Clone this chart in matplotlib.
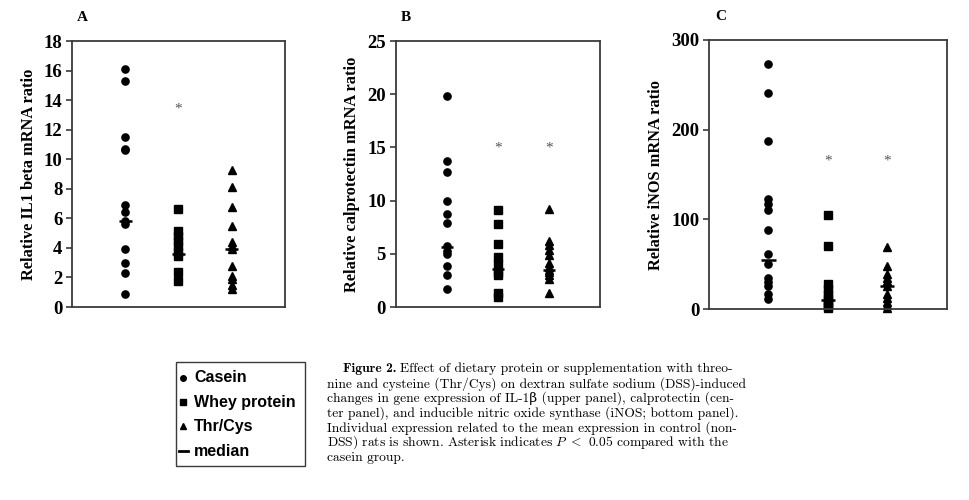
import matplotlib
matplotlib.use("Agg")
import matplotlib.pyplot as plt
from matplotlib.lines import Line2D
from matplotlib.patches import Rectangle

# ---- data ----
groups = ["Casein", "Whey protein", "Thr/Cys"]

il1_casein = [16.1, 15.3, 11.5, 10.7, 10.6, 6.9, 6.4, 5.8, 5.6, 3.9, 3.0, 2.3, 0.9]
il1_whey = [6.65, 5.15, 4.8, 4.45, 4.1, 3.75, 3.45, 2.4, 1.75]
il1_thr = [9.3, 8.1, 6.8, 5.5, 4.4, 4.1, 3.9, 2.8, 2.1, 1.9, 1.5, 1.2]
il1_median = [5.85, 3.6, 3.95]
il1_star = [None, 13.4, None]

cal_casein = [19.8, 13.7, 12.7, 10.0, 8.75, 7.9, 5.7, 5.3, 4.95, 3.85, 3.05, 1.7]
cal_whey = [9.15, 7.8, 5.9, 4.7, 4.0, 3.3, 3.0, 1.3, 0.95]
cal_thr = [9.25, 6.2, 5.8, 5.4, 4.9, 4.1, 3.8, 3.5, 3.3, 3.0, 2.6, 1.35]
cal_median = [5.6, 3.6, 3.45]
cal_star = [None, 14.9, 14.9]

inos_casein = [273, 241, 187, 123, 117, 110, 88, 61, 50, 35, 30, 26, 17, 11]
inos_whey = [105, 70, 28, 22, 17, 12, 9, 6, 3, 1]
inos_thr = [69, 48, 39, 35, 31, 26, 17, 12, 8, 4, 1]
inos_median = [55, 9.5, 26]
inos_star = [None, 165, 165]

SERIF = ["Liberation Serif", "DejaVu Serif"]
DARK = "#3a3a3a"

plt.rcParams["mathtext.fontset"] = "cm"
fig = plt.figure(figsize=(9.7, 5.0), dpi=100)


def panel(rect, letter, series, medians, stars, ymax, ystep, ylabel):
    ax = fig.add_axes(rect)
    markers = ["o", "s", "^"]
    sizes = [5.2, 5.2, 6.2]
    for i, vals in enumerate(series):
        xs = [i + 1] * len(vals)
        ax.plot(xs, vals, linestyle="none", marker=markers[i], ms=sizes[i],
                color="black", mec="black", clip_on=False)
        ax.hlines(medians[i], i + 1 - 0.12, i + 1 + 0.12, color="black", lw=1.8)
        if stars[i] is not None:
            ax.text(i + 1, stars[i], "*", ha="center", va="center",
                    fontsize=11, color="#555555", family=SERIF)
    ax.set_xlim(0, 4)
    ax.set_ylim(0, ymax)
    ax.set_yticks(range(0, ymax + 1, ystep))
    ax.set_xticks([])
    for s in ax.spines.values():
        s.set_color(DARK)
        s.set_linewidth(1.3)
    ax.tick_params(axis="y", direction="out", length=4, width=1.2, color=DARK, pad=3)
    for t in ax.get_yticklabels():
        t.set_fontfamily(SERIF)
        t.set_fontweight("bold")
        t.set_fontsize(13.5)
    ax.set_ylabel(ylabel, family=SERIF, fontweight="bold", fontsize=11.8, labelpad=5)
    ax.text(0.05, 1.065, letter, transform=ax.transAxes, family=SERIF,
            fontweight="bold", fontsize=11, ha="center", va="bottom")
    return ax


panel([0.0742, 0.386, 0.2196, 0.532], "A", [il1_casein, il1_whey, il1_thr],
      il1_median, il1_star, 18, 2, "Relative IL1 beta mRNA ratio")
panel([0.408, 0.386, 0.2106, 0.532], "B", [cal_casein, cal_whey, cal_thr],
      cal_median, cal_star, 25, 5, "Relative calprotectin mRNA ratio")
panel([0.731, 0.382, 0.245, 0.538], "C", [inos_casein, inos_whey, inos_thr],
      inos_median, inos_star, 300, 100, "Relative iNOS mRNA ratio")

# ---- legend box ----
W, H = 970.0, 500.0
fig.patches.append(Rectangle((176 / W, 1 - 466 / H), 129 / W, 104 / H,
                             transform=fig.transFigure, fill=False,
                             edgecolor=DARK, lw=1.0))
LEG_FONT = ["Liberation Sans Narrow", "Liberation Sans", "DejaVu Sans"]
leg_items = [("o", "Casein", 378), ("s", "Whey protein", 402),
             ("^", "Thr/Cys", 426), ("_", "median", 451)]
for mk, label, y in leg_items:
    yy = 1 - y / H
    if mk == "_":
        fig.add_artist(Line2D([179 / W, 188 / W], [yy, yy], color="black", lw=2))
    else:
        fig.add_artist(Line2D([183.5 / W], [yy], marker=mk, ms=4, color="black",
                              linestyle="none"))
    fig.text(194 / W, yy, label, family=LEG_FONT, fontweight="bold",
             fontsize=11.5, va="center", ha="left")

# ---- caption ----
CAP = ["cmr10", "DejaVu Serif"]
cap_lines = [
    "nine and cysteine (Thr/Cys) on dextran sulfate sodium (DSS)-induced",
    "changes in gene expression of IL-1β (upper panel), calprotectin (cen-",
    "ter panel), and inducible nitric oxide synthase (iNOS; bottom panel).",
    "Individual expression related to the mean expression in control (non-",
    r"DSS) rats is shown. Asterisk indicates $P\ <$ 0.05 compared with the",
    "casein group.",
]
y0 = 369
FS = 9.7
t = fig.text(343 / W, 1 - y0 / H, "Figure 2.", family=["cmb10", "DejaVu Serif"],
             fontsize=FS, va="center", ha="left")
fig.canvas.draw()
bb = t.get_window_extent()
fig.text((bb.x1 + 4) / W, 1 - y0 / H,
         "Effect of dietary protein or supplementation with threo-",
         family=CAP, fontsize=FS, va="center", ha="left")
for i, line in enumerate(cap_lines):
    fig.text(327 / W, 1 - (y0 + 14.8 * (i + 1)) / H, line, family=CAP,
             fontsize=FS, va="center", ha="left")

fig.savefig("out.png", dpi=100)
